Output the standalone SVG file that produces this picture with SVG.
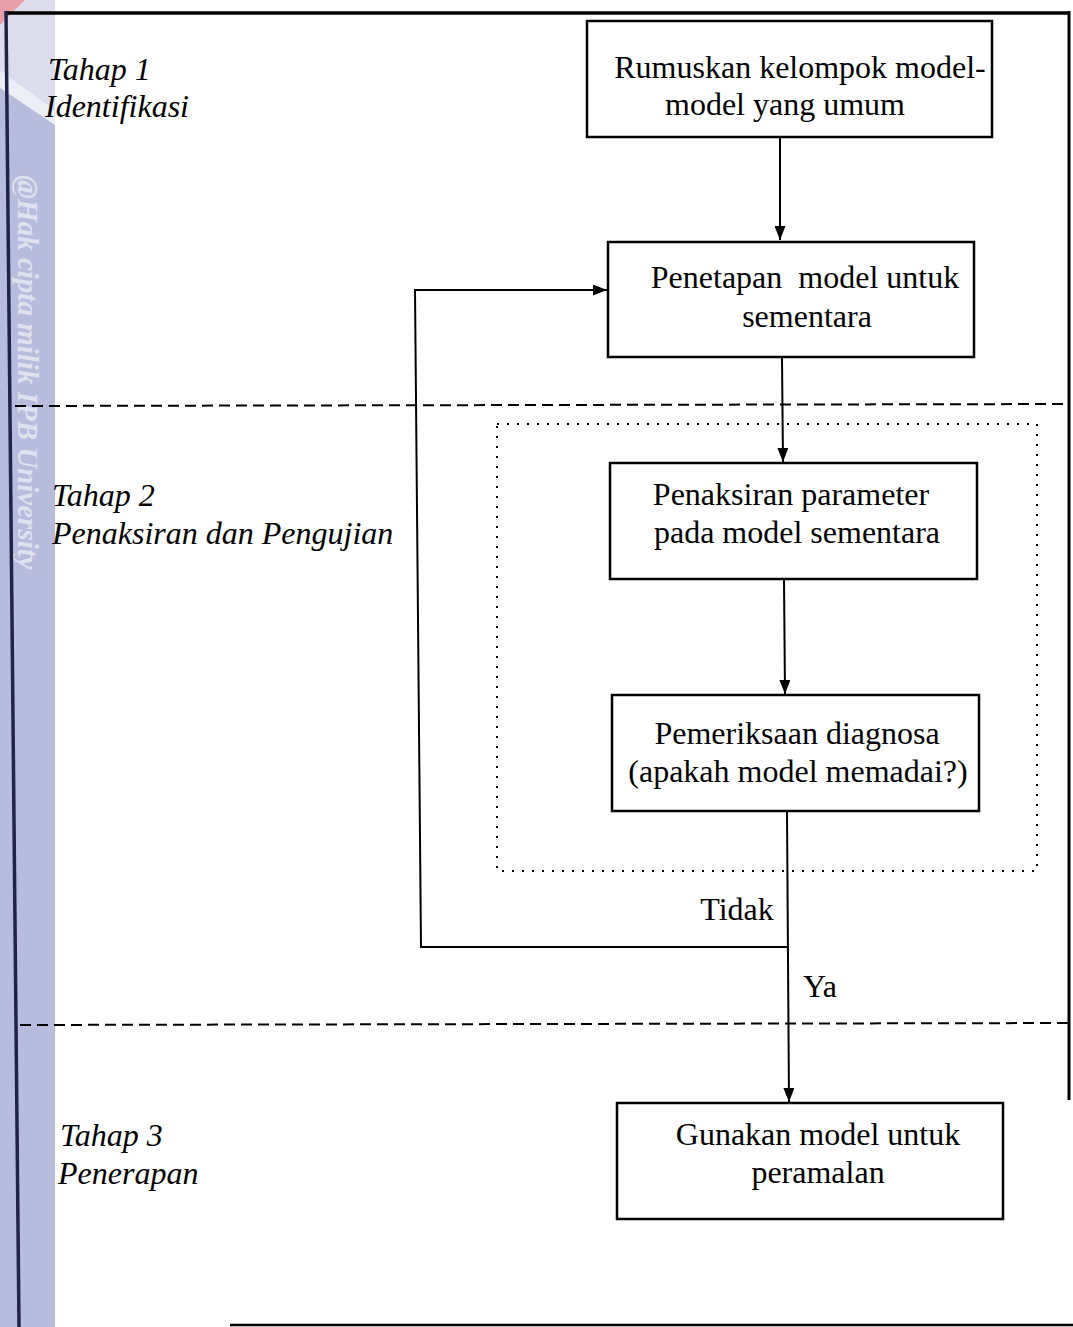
<svg xmlns="http://www.w3.org/2000/svg" width="1073" height="1327" viewBox="0 0 1073 1327">
<defs>
<style>
.box{fill:none;stroke:#000;stroke-width:2.5}
.t{font-family:"Liberation Serif","Times New Roman",serif;font-size:32px;fill:#000;text-anchor:middle}
.lab{font-family:"Liberation Serif","Times New Roman",serif;font-size:32px;font-style:italic;fill:#000}
.ln{fill:none;stroke:#000;stroke-width:2}
.dash{fill:none;stroke:#000;stroke-width:2;stroke-dasharray:11 6}
.dot{fill:none;stroke:#000;stroke-width:2;stroke-dasharray:2 8}
</style>
<marker id="ah" markerWidth="14" markerHeight="11" refX="14" refY="5.5" orient="auto" markerUnits="userSpaceOnUse">
<path d="M0,0 L14,5.5 L0,11 Z" fill="#000"/>
</marker>
</defs>
<rect width="1073" height="1327" fill="#fff"/>
<g id="watermark">
<rect x="0" y="0" width="55" height="1327" fill="#b8bcdc"/>
<path d="M0,0 H55 V110 L0,70 Z" fill="#dcdced"/>
<path d="M0,70 L55,110 V125 L0,88 Z" fill="#eceef6"/>
<path d="M0,0 H25 L0,25 Z" fill="#e8a0a8"/>
<text x="18" y="175" transform="rotate(90 18 175)" font-family="Liberation Serif,serif" font-style="italic" font-weight="bold" font-size="29" fill="#dfe1f0">@Hak cipta milik IPB University</text>
</g>
<g id="frame">
<line x1="5" y1="13" x2="1070" y2="13" stroke="#000" stroke-width="3.5"/>
<line x1="1069" y1="11" x2="1069" y2="1100" stroke="#000" stroke-width="3"/>
<line x1="6" y1="11" x2="19" y2="1327" stroke="#1f2347" stroke-width="3.5"/>
<line x1="230" y1="1325" x2="1073" y2="1325" stroke="#000" stroke-width="2.5"/>
</g>
<g id="dividers">
<line class="dash" x1="15" y1="406" x2="1068" y2="404"/>
<line class="dash" x1="20" y1="1025" x2="1073" y2="1023"/>
<rect class="dot" x="497" y="424" width="540" height="447"/>
</g>
<g id="stage-labels">
<text class="lab" x="48" y="80">Tahap 1</text>
<text class="lab" x="45" y="117">Identifikasi</text>
<text class="lab" x="52" y="506">Tahap 2</text>
<text class="lab" x="52" y="544">Penaksiran dan Pengujian</text>
<text class="lab" x="60" y="1146">Tahap 3</text>
<text class="lab" x="58" y="1184">Penerapan</text>
</g>
<g id="connectors">
<line class="ln" x1="780" y1="137" x2="780" y2="240" marker-end="url(#ah)"/>
<line class="ln" x1="782" y1="358" x2="783" y2="462" marker-end="url(#ah)"/>
<line class="ln" x1="784" y1="580" x2="785" y2="694" marker-end="url(#ah)"/>
<line class="ln" x1="787" y1="812" x2="789" y2="1102" marker-end="url(#ah)"/>
<polyline class="ln" points="787,947 421,947 415,290 607,290" marker-end="url(#ah)"/>
<text class="t" x="737" y="920">Tidak</text>
<text class="t" x="820" y="997">Ya</text>
</g>
<g id="node1">
<rect class="box" x="587" y="21" width="405" height="116"/>
<text class="t" x="800" y="78">Rumuskan kelompok model-</text>
<text class="t" x="785" y="115">model yang umum</text>
</g>
<g id="node2">
<rect class="box" x="608" y="242" width="366" height="115"/>
<text class="t" x="805" y="288" xml:space="preserve">Penetapan  model untuk</text>
<text class="t" x="807" y="327">sementara</text>
</g>
<g id="node3">
<rect class="box" x="610" y="463" width="367" height="116"/>
<text class="t" x="791" y="505">Penaksiran parameter</text>
<text class="t" x="797" y="543">pada model sementara</text>
</g>
<g id="node4">
<rect class="box" x="612" y="695" width="367" height="116"/>
<text class="t" x="797" y="744">Pemeriksaan diagnosa</text>
<text class="t" x="798" y="782">(apakah model memadai?)</text>
</g>
<g id="node5">
<rect class="box" x="617" y="1103" width="386" height="116"/>
<text class="t" x="818" y="1145">Gunakan model untuk</text>
<text class="t" x="818" y="1183">peramalan</text>
</g>
</svg>
